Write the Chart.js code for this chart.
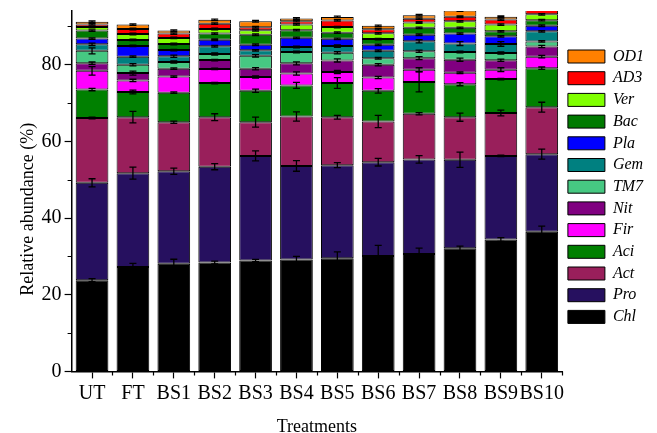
<!DOCTYPE html>
<html>
<head>
<meta charset="utf-8">
<script src="https://cdn.jsdelivr.net/npm/chart.js@4.4.1/dist/chart.umd.min.js"></script>
<style>
  html, body { margin: 0; padding: 0; background: #fff; }
  #wrap { width: 657px; height: 433px; position: relative; }
</style>
</head>
<body>
<div id="wrap"><canvas id="c"></canvas></div>
<script>
const categories = ['UT','FT','BS1','BS2','BS3','BS4','BS5','BS6','BS7','BS8','BS9','BS10'];
const yTicks = [0, 20, 40, 60, 80];

const Chl = [23.8, 27.2, 28.05, 28.4, 28.9, 29.2, 29.5, 30.07, 30.6, 32.1, 34.4, 36.4];
const Pro = [25.4, 24.5, 24.15, 25.0, 27.3, 24.4, 24.3, 24.5, 24.7, 23.1, 21.8, 20.25];
const Act = [16.9, 14.6, 12.8, 12.9, 8.8, 12.9, 12.5, 10.6, 11.9, 11.1, 11.2, 12.25];
const Aci = [7.4, 6.56, 7.7, 8.9, 8.2, 8.1, 8.9, 8.0, 8.3, 8.6, 8.85, 10.2];
const Fir = [4.9, 3.04, 4.2, 3.7, 3.6, 3.1, 2.9, 3.5, 3.2, 3.0, 2.45, 3.0];
const Nit = [2.0, 1.9, 2.05, 2.3, 2.15, 2.65, 3.0, 3.3, 3.0, 3.4, 2.45, 2.66];
const TM7 = [3.2, 2.2, 1.75, 1.6, 3.35, 2.95, 2.0, 1.7, 1.8, 2.0, 1.9, 1.3];
const Gem = [1.7, 2.1, 1.5, 2.0, 1.45, 1.3, 1.75, 1.96, 2.6, 2.2, 2.35, 2.64];
const Pla = [1.5, 2.8, 1.6, 1.7, 1.45, 2.4, 1.9, 1.54, 1.7, 2.6, 2.0, 1.46];
const Bac = [2.1, 1.55, 1.6, 1.6, 2.6, 2.0, 1.6, 1.5, 1.8, 1.5, 1.3, 1.46];
const Ver = [0.9, 1.55, 1.57, 1.2, 1.17, 1.5, 1.46, 1.5, 1.4, 1.7, 1.76, 1.5];
const AD3 = [0.7, 1.3, 1.13, 1.4, 0.8, 0.84, 1.74, 1.1, 1.0, 1.2, 1.3, 2.0];
const OD1 = [0.7, 1.16, 0.8, 1.0, 1.55, 0.7, 0.9, 0.86, 0.9, 1.6, 0.74, 1.0];

const ChlErr = [0.4, 1.0, 1.2, 0.35, 0.3, 0.8, 1.65, 2.8, 1.57, 0.6, 0.5, 1.5];
const ProErr = [1.05, 1.57, 0.8, 0.8, 1.3, 1.4, 0.65, 1.0, 1.0, 2.0, 0.2, 1.3];
const ActErr = [0.2, 1.5, 0.3, 0.9, 1.3, 1.2, 0.5, 1.6, 0.3, 1.05, 0.75, 1.3];
const AciErr = [0.3, 0.5, 0.2, 0.2, 0.4, 0.8, 1.4, 0.6, 2.6, 0.4, 0.2, 0.3];
const FirErr = [1.1, 0.3, 0.2, 0.2, 0.3, 0.4, 0.4, 0.3, 0.5, 0.2, 0.5, 0.3];
const NitErr = [0.3, 0.5, 0.2, 0.2, 0.3, 0.4, 0.4, 0.3, 0.4, 0.4, 0.3, 0.3];
const TM7Err = [0.8, 0.3, 0.3, 0.3, 0.3, 0.2, 0.3, 0.2, 0.3, 0.2, 0.3, 0.2];
const GemErr = [0.3, 0.2, 0.3, 0.2, 0.2, 0.2, 0.3, 0.2, 0.4, 0.5, 0.6, 0.2];
const PlaErr = [0.2, 0.2, 0.2, 0.2, 0.2, 0.2, 0.2, 0.2, 0.2, 0.2, 0.2, 0.2];
const BacErr = [0.2, 0.2, 0.2, 0.2, 0.2, 0.2, 0.2, 0.2, 0.2, 0.2, 0.2, 0.2];
const VerErr = [0.2, 0.2, 0.2, 0.2, 0.2, 0.2, 0.2, 0.2, 0.2, 0.2, 0.2, 0.2];
const AD3Err = [0.2, 0.2, 0.2, 0.2, 0.2, 0.2, 0.2, 0.2, 0.2, 0.2, 0.2, 0.2];
const OD1Err = [0.2, 0.2, 0.2, 0.2, 0.2, 0.2, 0.2, 0.2, 0.2, 0.2, 0.2, 0.2];

const seriesNames = ['Chl','Pro','Act','Aci','Fir','Nit','TM7','Gem','Pla','Bac','Ver','AD3','OD1'];
const seriesValues = [Chl, Pro, Act, Aci, Fir, Nit, TM7, Gem, Pla, Bac, Ver, AD3, OD1];
const seriesErrors = [ChlErr, ProErr, ActErr, AciErr, FirErr, NitErr, TM7Err, GemErr, PlaErr, BacErr, VerErr, AD3Err, OD1Err];
const seriesColors = ['#000000','#26105F','#991F5B','#008000','#FF00FF','#800080','#46C882','#008080','#0000FF','#007A00','#80FF00','#FF0000','#FF8000'];

const SERIF = '"Liberation Serif", "Times New Roman", serif';

const datasets = seriesNames.map((name, i) => ({
  label: name,
  data: seriesValues[i],
  backgroundColor: seriesColors[i],
  borderColor: '#000',
  borderWidth: 1,
  borderSkipped: false,
  barPercentage: 0.8,
  categoryPercentage: 1.0,
  stack: 's'
}));

const errorBarPlugin = {
  id: 'errorBars',
  afterDatasetsDraw(chart) {
    const ctx = chart.ctx, y = chart.scales.y, area = chart.chartArea;
    ctx.save();
    ctx.beginPath();
    ctx.rect(area.left, area.top, area.right - area.left, area.bottom - area.top);
    ctx.clip();
    ctx.strokeStyle = '#000';
    ctx.lineWidth = 1.3;
    seriesValues.forEach((vals, i) => {
      const meta = chart.getDatasetMeta(i);
      meta.data.forEach((el, j) => {
        let cum = 0;
        for (let k = 0; k <= i; k++) cum += seriesValues[k][j];
        const e = seriesErrors[i][j];
        const yt = y.getPixelForValue(cum + e);
        const yb = y.getPixelForValue(cum - e);
        const x = el.x;
        ctx.beginPath();
        ctx.moveTo(x, yt); ctx.lineTo(x, yb);
        ctx.moveTo(x - 3.5, yt); ctx.lineTo(x + 3.5, yt);
        ctx.moveTo(x - 3.5, yb); ctx.lineTo(x + 3.5, yb);
        ctx.stroke();
      });
    });
    ctx.restore();
  }
};

const minorTickPlugin = {
  id: 'minorTicks',
  afterDraw(chart) {
    const ctx = chart.ctx, y = chart.scales.y, x = chart.scales.x, area = chart.chartArea;
    ctx.save();
    ctx.strokeStyle = '#000';
    ctx.lineWidth = 1.2;
    ctx.beginPath();
    for (let v = 10; v < y.max; v += 20) {
      const py = Math.round(y.getPixelForValue(v)) + 0.5;
      ctx.moveTo(area.left - 4, py); ctx.lineTo(area.left, py);
    }
    for (let j = 0; j < categories.length; j++) {
      const half = (x.getPixelForValue(1) - x.getPixelForValue(0)) / 2;
      const px = Math.round(x.getPixelForValue(j) + half) + 0.5;
      ctx.moveTo(px, area.bottom); ctx.lineTo(px, area.bottom + 4);
    }
    ctx.stroke();
    ctx.restore();
  }
};

new Chart(document.getElementById('c'), {
  type: 'bar',
  data: { labels: categories, datasets },
  plugins: [errorBarPlugin, minorTickPlugin],
  options: {
    responsive: true,
    maintainAspectRatio: false,
    animation: false,
    layout: { padding: { top: 11, right: 3, bottom: -5, left: 17 } },
    plugins: {
      tooltip: { enabled: false },
      legend: {
        position: 'right',
        reverse: true,
        fullSize: false,
        align: 'start',
        title: { display: true, text: '', font: { size: 10 }, padding: { top: 0, bottom: 19.8 } },
        labels: {
          boxWidth: 37,
          boxHeight: 13,
          padding: 5.7,
          color: '#000',
          font: { family: SERIF, size: 16, style: 'italic' }
        }
      }
    },
    scales: {
      x: {
        stacked: true,
        grid: { display: true, drawOnChartArea: false, offset: false, tickLength: 7, color: '#000', tickWidth: 1.2 },
        border: { display: true, color: '#000', width: 1.5 },
        ticks: { color: '#000', font: { family: SERIF, size: 20 }, maxRotation: 0, autoSkip: false, padding: 3 },
        title: { display: true, text: 'Treatments', color: '#000', font: { family: SERIF, size: 18 }, padding: { top: 8, bottom: 0 } }
      },
      y: {
        stacked: true,
        min: 0,
        max: 94,
        afterFit: (s) => { s.paddingTop = 0; },
        grid: { display: true, drawOnChartArea: false, tickLength: 7, color: '#000', tickWidth: 1.2 },
        border: { display: true, color: '#000', width: 1.5 },
        ticks: {
          stepSize: 10,
          includeBounds: false,
          color: '#000',
          padding: 3,
          font: { family: SERIF, size: 20 },
          callback: (v) => yTicks.includes(v) ? String(v) : null
        },
        title: { display: true, text: 'Relative abundance (%)' + '\u00A0'.repeat(8), color: '#000', font: { family: SERIF, size: 18 }, padding: { top: 0, bottom: 0 } }
      }
    }
  }
});
</script>
</body>
</html>
